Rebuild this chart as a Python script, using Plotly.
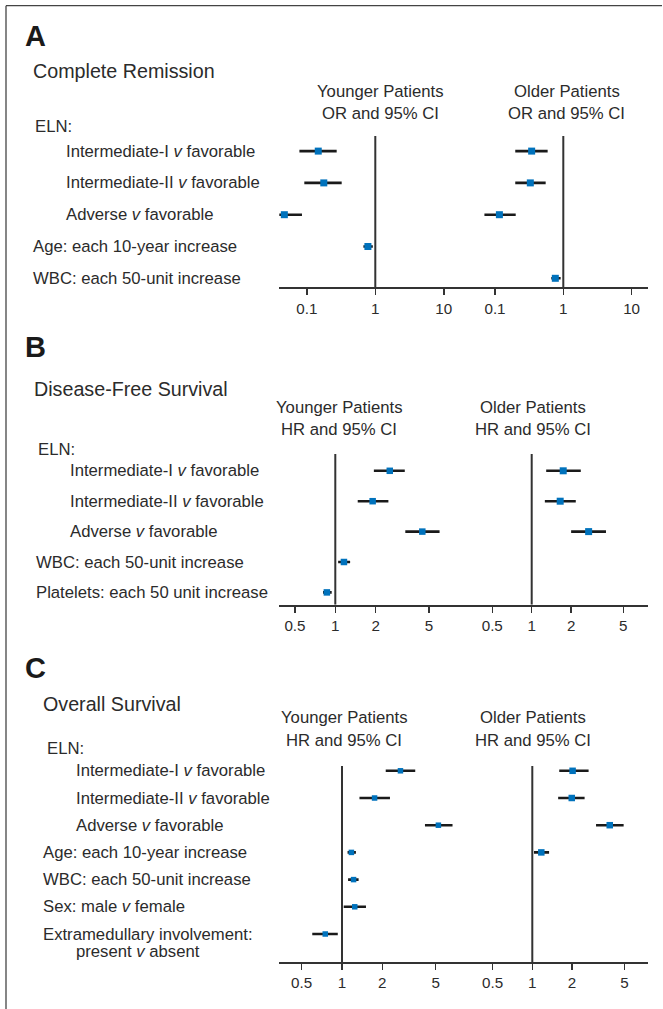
import plotly.graph_objects as go

W, H = 663, 1009

# ---------------- data ----------------
tick_vals_A = [0.1, 1, 10]
tick_text_A = ["0.1", "1", "10"]
tick_vals_BC = [0.5, 1, 2, 5]
tick_text_BC = ["0.5", "1", "2", "5"]

# Panel A: Complete Remission (OR and 95% CI)
rows_A = ["Intermediate-I <i>v</i> favorable", "Intermediate-II <i>v</i> favorable",
          "Adverse <i>v</i> favorable", "Age: each 10-year increase", "WBC: each 50-unit increase"]
A_young_est = [0.147, 0.177, 0.047, 0.78, None]
A_young_lo = [0.078, 0.092, 0.0265, 0.67, None]
A_young_hi = [0.273, 0.323, 0.085, 0.92, None]
A_old_est = [0.344, 0.329, 0.116, None, 0.764]
A_old_lo = [0.198, 0.198, 0.070, None, 0.667]
A_old_hi = [0.590, 0.552, 0.201, None, 0.914]

# Panel B: Disease-Free Survival (HR and 95% CI)
rows_B = ["Intermediate-I <i>v</i> favorable", "Intermediate-II <i>v</i> favorable",
          "Adverse <i>v</i> favorable", "WBC: each 50-unit increase", "Platelets: each 50 unit increase"]
B_young_est = [2.55, 1.90, 4.46, 1.16, 0.865]
B_young_lo = [1.94, 1.47, 3.33, 1.05, 0.81]
B_young_hi = [3.30, 2.49, 6.00, 1.29, 0.94]
B_old_est = [1.74, 1.65, 2.72, None, None]
B_old_lo = [1.29, 1.26, 2.00, None, None]
B_old_hi = [2.37, 2.17, 3.69, None, None]

# Panel C: Overall Survival (HR and 95% CI)
rows_C = ["Intermediate-I <i>v</i> favorable", "Intermediate-II <i>v</i> favorable",
          "Adverse <i>v</i> favorable", "Age: each 10-year increase", "WBC: each 50-unit increase",
          "Sex: male <i>v</i> female", "Extramedullary involvement:"]
C_young_est = [2.73, 1.75, 5.24, 1.175, 1.22, 1.245, 0.75]
C_young_lo = [2.12, 1.35, 4.16, 1.10, 1.11, 1.03, 0.60]
C_young_hi = [3.52, 2.28, 6.68, 1.27, 1.33, 1.51, 0.93]
C_old_est = [2.02, 1.99, 3.86, 1.17, None, None, None]
C_old_lo = [1.60, 1.57, 3.04, 1.03, None, None, None]
C_old_hi = [2.67, 2.49, 4.92, 1.34, None, None, None]

# ---------------- style / layout constants ----------------
FONT = "Liberation Sans, Arial, Helvetica, sans-serif"
TXT = "#2b2b2b"
LINE = "#333333"
BLUE = "#0072bc"
BAR = "#1a1a1a"
LBL = 16.7


def fx(px):
    return px / W


def fy(py):
    return 1 - py / H


panels = [
    dict(key="A", letter="A", letter_y=36, title="Complete Remission", title_x=30.7, title_y=70.7,
         measure="OR", rows=rows_A, indent=[True, True, True, False, False],
         label_x=30.7, indent_x=64, eln_x=32.7, eln_y=127,
         row0=151.1, step=31.8, top=136, bottom=287.3,
         young=dict(est=A_young_est, lo=A_young_lo, hi=A_young_hi, d0=279.3, d1=469.7, one=375.3, dec=68.5),
         old=dict(est=A_old_est, lo=A_old_lo, hi=A_old_hi, d0=469.7, d1=648.3, one=563.3, dec=68.3),
         tv=tick_vals_A, tt=tick_text_A,
         hyc=380.5, hoc=566.5, h1=91, h2=113, msize=[7, 7]),
    dict(key="B", letter="B", letter_y=347.5, title="Disease-Free Survival", title_x=31.7, title_y=389,
         measure="HR", rows=rows_B, indent=[True, True, True, False, False],
         label_x=34.3, indent_x=67.7, eln_x=36, eln_y=449.5,
         row0=470.8, step=30.4, top=454, bottom=604.7,
         young=dict(est=B_young_est, lo=B_young_lo, hi=B_young_hi, d0=279.3, d1=461.5, one=335.3, dec=134),
         old=dict(est=B_old_est, lo=B_old_lo, hi=B_old_hi, d0=461.5, d1=648.3, one=531.7, dec=131),
         tv=tick_vals_BC, tt=tick_text_BC,
         hyc=339, hoc=532.7, h1=407, h2=429.5, msize=[6.5, 7]),
    dict(key="C", letter="C", letter_y=667.7, title="Overall Survival", title_x=40.7, title_y=703.7,
         measure="HR", rows=rows_C, indent=[True, True, True, False, False, False, False],
         label_x=40.7, indent_x=74, eln_x=45, eln_y=748.7,
         row0=770.8, step=27.2, top=766, bottom=962,
         young=dict(est=C_young_est, lo=C_young_lo, hi=C_young_hi, d0=279.3, d1=464, one=342, dec=134),
         old=dict(est=C_old_est, lo=C_old_lo, hi=C_old_hi, d0=464, d1=648.3, one=532.3, dec=132),
         tv=tick_vals_BC, tt=tick_text_BC,
         hyc=344, hoc=532.8, h1=717.8, h2=740.3, msize=[5.5, 6.5]),
]

fig = go.Figure()
annotations = []
layout_axes = {}

for pi, p in enumerate(panels):
    yname = "y" if pi == 0 else f"y{pi + 1}"
    ykey = "yaxis" if pi == 0 else f"yaxis{pi + 1}"
    y_lo = (p["top"] - p["row0"]) / p["step"]
    y_hi = (p["bottom"] - p["row0"]) / p["step"]
    layout_axes[ykey] = dict(domain=[fy(p["bottom"]), fy(p["top"])], range=[y_hi, y_lo],
                             visible=False, showgrid=False, zeroline=False, fixedrange=True)
    for si, side in enumerate(["young", "old"]):
        idx = pi * 2 + si + 1
        xname = "x" if idx == 1 else f"x{idx}"
        xkey = "xaxis" if idx == 1 else f"xaxis{idx}"
        s = p[side]
        r0 = (s["d0"] - s["one"]) / s["dec"]
        r1 = (s["d1"] - s["one"]) / s["dec"]
        layout_axes[xkey] = dict(
            type="log", domain=[fx(s["d0"]), fx(s["d1"])], range=[r0, r1], anchor=yname,
            tickvals=p["tv"], ticktext=p["tt"], ticks="outside", ticklen=6, tickwidth=1.5,
            tickcolor=LINE, showline=True, linewidth=2, linecolor=LINE, showgrid=False,
            zeroline=False, tickfont=dict(family=FONT, size=15.2, color=TXT), fixedrange=True)
        # reference line at 1
        fig.add_trace(go.Scatter(x=[1, 1], y=[y_lo, y_hi], mode="lines", xaxis=xname, yaxis=yname,
                                 line=dict(color=LINE, width=2), hoverinfo="skip",
                                 showlegend=False, cliponaxis=False))
        xs, ys, ep, em = [], [], [], []
        for i, (e, lo, hi) in enumerate(zip(s["est"], s["lo"], s["hi"])):
            if e is None:
                continue
            xs.append(e)
            ys.append(i)
            ep.append(hi - e)
            em.append(e - lo)
        fig.add_trace(go.Scatter(
            x=xs, y=ys, mode="markers", xaxis=xname, yaxis=yname, showlegend=False,
            marker=dict(symbol="square", size=p["msize"][si], color=BLUE, line=dict(width=0)),
            error_x=dict(type="data", symmetric=False, array=ep, arrayminus=em,
                         color=BAR, thickness=2.6, width=0),
            cliponaxis=False))

    # text
    annotations.append(dict(text=f"<b>{p['letter']}</b>", x=fx(23), y=fy(p["letter_y"]),
                            font=dict(size=29, family=FONT, color="#1a1a1a")))
    annotations.append(dict(text=p["title"], x=fx(p["title_x"]), y=fy(p["title_y"]),
                            font=dict(size=19.7, family=FONT, color=TXT)))
    annotations.append(dict(text="ELN:", x=fx(p["eln_x"]), y=fy(p["eln_y"]),
                            font=dict(size=LBL, family=FONT, color=TXT)))
    for i, lab in enumerate(p["rows"]):
        xpx = p["indent_x"] if p["indent"][i] else p["label_x"]
        annotations.append(dict(text=lab, x=fx(xpx), y=fy(p["row0"] + i * p["step"]),
                                font=dict(size=LBL, family=FONT, color=TXT)))
    if p["key"] == "C":
        annotations.append(dict(text="present <i>v</i> absent", x=fx(p["indent_x"]), y=fy(951),
                                font=dict(size=LBL, family=FONT, color=TXT)))
    for cx, who in [(p["hyc"], "Younger Patients"), (p["hoc"], "Older Patients")]:
        annotations.append(dict(text=who, x=fx(cx), y=fy(p["h1"]), xanchor="center",
                                font=dict(size=LBL, family=FONT, color=TXT)))
        annotations.append(dict(text=f"{p['measure']} and 95% CI", x=fx(cx), y=fy(p["h2"]),
                                xanchor="center", font=dict(size=LBL, family=FONT, color=TXT)))

for a in annotations:
    a.setdefault("xanchor", "left")
    a.update(xref="paper", yref="paper", yanchor="middle", showarrow=False)

shapes = [
    dict(type="line", xref="paper", yref="paper", x0=fx(6), x1=fx(662), y0=fy(5.7), y1=fy(5.7),
         line=dict(color="#444444", width=1.3)),
    dict(type="line", xref="paper", yref="paper", x0=fx(6), x1=fx(6), y0=fy(5.7), y1=0,
         line=dict(color="#444444", width=1.3)),
]

fig.update_layout(width=W, height=H, margin=dict(l=0, r=0, t=0, b=0), autosize=False,
                  paper_bgcolor="white", plot_bgcolor="rgba(0,0,0,0)",
                  font=dict(family=FONT, color=TXT), annotations=annotations, shapes=shapes,
                  showlegend=False, **layout_axes)

fig.write_html("out.html", config=dict(displayModeBar=False, staticPlot=True),
               post_script="document.body.style.margin='0px';document.body.style.overflow='hidden';")
